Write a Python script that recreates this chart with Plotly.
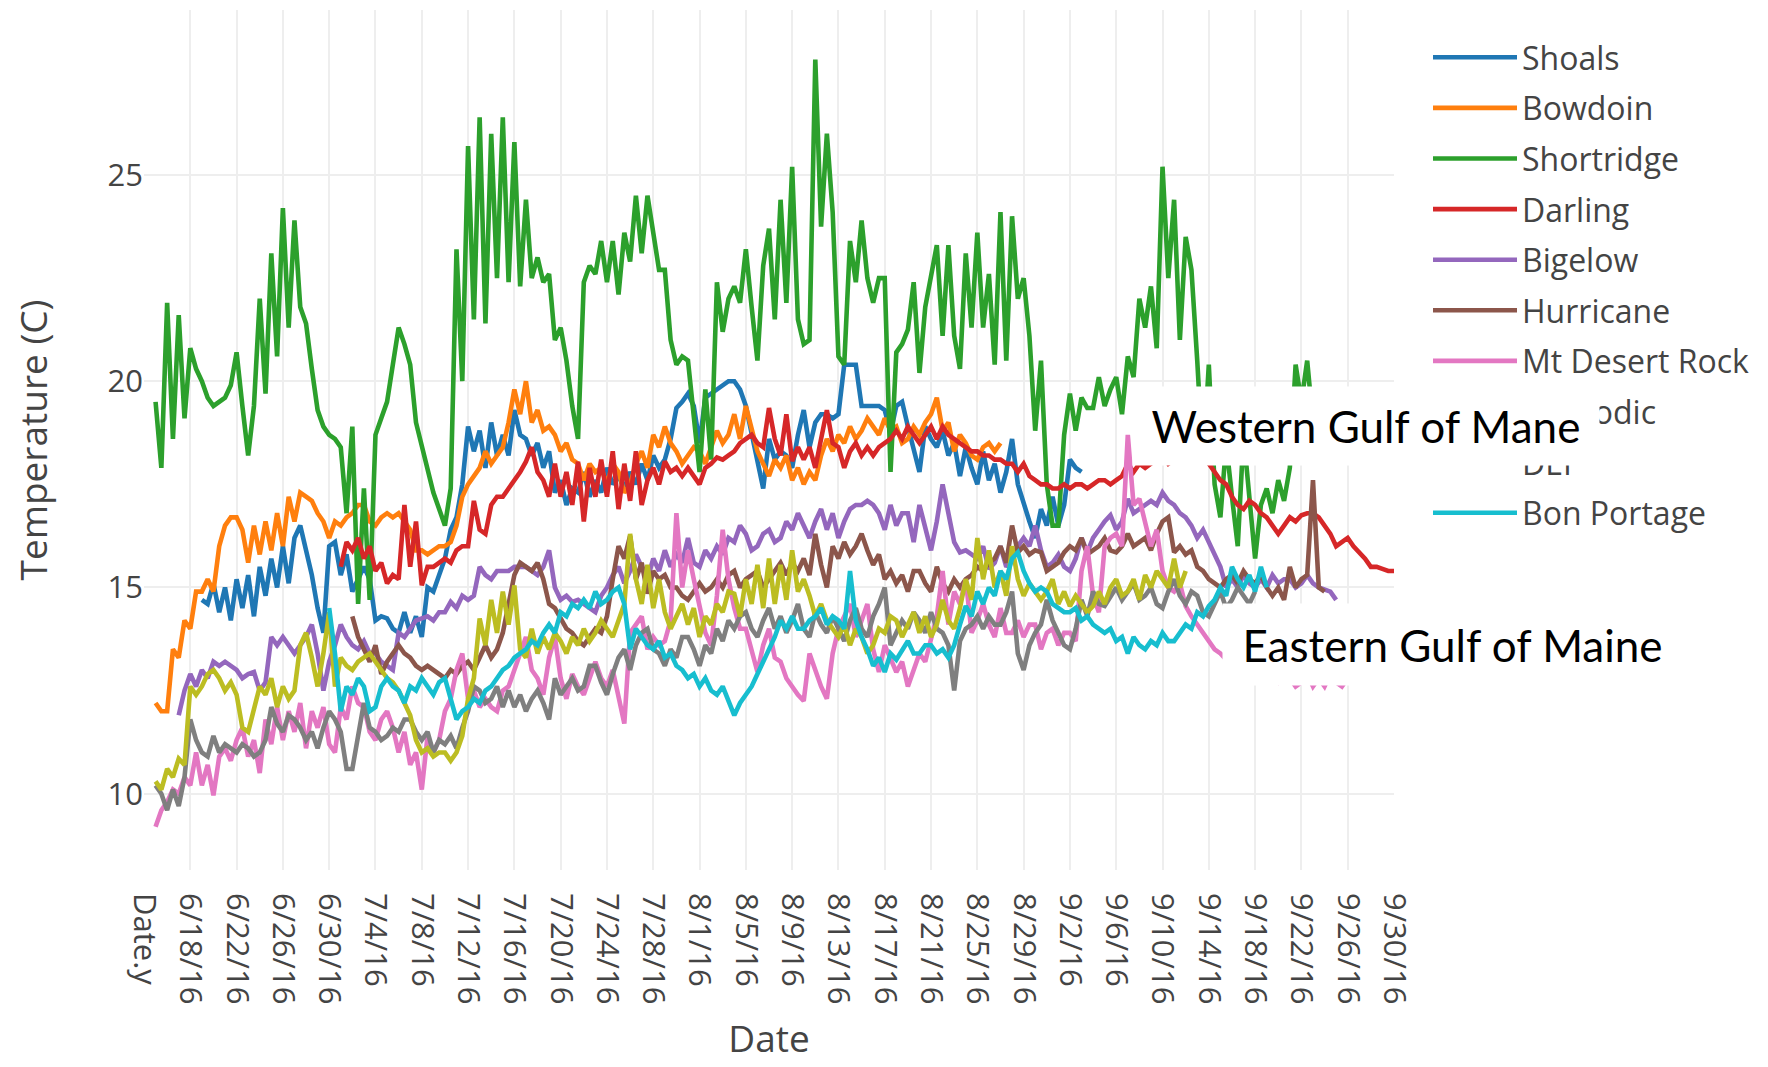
import datetime as dt
import plotly.graph_objects as go

# ---------------- data (readings every 12 hours) ----------------
TICK_LABELS = ["Date.y", "6/18/16", "6/22/16", "6/26/16", "6/30/16", "7/4/16", "7/8/16",
               "7/12/16", "7/16/16", "7/20/16", "7/24/16", "7/28/16", "8/1/16", "8/5/16",
               "8/9/16", "8/13/16", "8/17/16", "8/21/16", "8/25/16", "8/29/16", "9/2/16",
               "9/6/16", "9/10/16", "9/14/16", "9/18/16", "9/22/16", "9/26/16", "9/30/16"]
TICK_START = "2016-06-14"   # position of the "Date.y" category

SITES = ["Shoals", "Bowdoin", "Shortridge", "Darling", "Bigelow", "Hurricane",
         "Mt Desert Rock", "Schoodic", "DEI", "Bon Portage"]
COLORS = ["#1f77b4", "#ff7f0e", "#2ca02c", "#d62728", "#9467bd", "#8c564b",
          "#e377c2", "#7f7f7f", "#bcbd22", "#17becf"]
STARTS = ["2016-06-19", "2016-06-15", "2016-06-15", "2016-07-01", "2016-06-17",
          "2016-07-02", "2016-06-15", "2016-06-15", "2016-06-15", "2016-06-30"]

shoals = [14.7, 14.6, 15.1, 14.4, 15.0, 14.2, 15.2, 14.5, 15.3, 14.3,
          15.5, 14.8, 15.7, 15.0, 16.0, 15.1, 16.2, 16.5, 15.9, 15.3,
          14.5, 13.9, 16.0, 16.1, 15.3, 15.8, 14.9, 15.2, 15.5, 15.2,
          14.2, 14.3, 14.25, 14.0, 13.9, 14.4, 13.9, 14.3, 13.8, 15.0,
          14.9, 15.3, 15.7, 16.4, 16.7, 17.5, 18.9, 18.3, 18.8, 17.9,
          19.0, 18.2, 18.7, 18.2, 19.3, 18.7, 18.6, 18.2, 18.5, 17.9,
          18.3, 17.3, 17.6, 17.0, 17.4, 17.3, 17.8, 17.2, 17.6, 17.3,
          17.9, 17.5, 17.7, 17.4, 17.8, 17.5, 18.0, 17.6, 18.2, 17.9,
          18.1, 18.6, 19.35, 19.5, 19.7, 19.4, 18.5, 19.6, 19.7, 19.8,
          19.9, 20.0, 20.0, 19.8, 19.4, 18.7, 18.0, 17.4, 18.6, 18.1,
          18.3, 18.2, 17.9, 18.7, 19.3, 18.4, 19.0, 19.2, 19.2, 19.1,
          19.2, 20.4, 20.4, 20.4, 19.4, 19.4, 19.4, 19.4, 19.3, 18.75,
          19.4, 19.5, 18.9, 18.3, 17.8, 18.9, 18.6, 18.4, 18.8, 18.2,
          18.5, 17.7, 18.4, 17.9, 17.5, 18.3, 17.6, 18.0, 17.3, 17.8,
          18.6, 17.5, 17.0, 16.6, 16.2, 16.9, 16.5, 17.2, 16.5, 17.0,
          18.1, 17.9, 17.8]

bowdoin = [12.2, 12.0, 12.0, 13.5, 13.3, 14.2, 14.0, 14.9, 14.9, 15.2,
           14.9, 16.0, 16.5, 16.7, 16.7, 16.4, 15.6, 16.5, 15.8, 16.6,
           15.9, 16.8, 16.0, 17.2, 16.6, 17.3, 17.2, 17.1, 16.8, 16.6,
           16.2, 16.6, 16.5, 16.7, 16.8, 17.0, 17.0, 16.6, 16.5, 16.7,
           16.8, 16.7, 16.8, 16.6, 16.4, 15.9, 15.9, 15.8, 15.9, 16.0,
           16.0, 16.1, 16.5, 17.2, 17.5, 17.7, 17.9, 18.3, 18.0, 18.2,
           18.4, 19.0, 19.8, 19.2, 20.0, 19.0, 19.3, 18.8, 18.9, 18.7,
           18.3, 18.5, 18.1, 18.0, 17.6, 18.0, 17.8, 17.9, 17.5, 18.0,
           17.8, 17.3, 17.5, 18.0, 18.3, 17.9, 18.7, 18.4, 18.9, 18.5,
           18.3, 18.0, 18.2, 18.4, 18.3, 18.0, 18.4, 18.8, 18.5, 18.7,
           19.2, 18.6, 19.4, 18.9, 18.3, 18.0, 17.7, 18.1, 17.9, 18.2,
           17.6, 17.9, 17.5, 17.8, 17.6, 18.2, 18.6, 18.3, 18.7, 18.5,
           18.9, 18.6, 18.8, 19.1, 18.9, 18.7, 19.1, 18.8, 18.9, 18.5,
           18.6, 18.9, 18.7, 19.0, 19.2, 19.6, 18.8, 19.0, 18.3, 18.7,
           18.5, 18.2, 18.1, 18.4, 18.5, 18.3, 18.5]

shortridge = [19.5, 17.9, 21.9, 18.6, 21.6, 19.1, 20.8, 20.3, 20.0, 19.6,
              19.4, 19.5, 19.6, 19.9, 20.7, 19.4, 18.2, 19.4, 22.0, 19.7,
              23.1, 20.6, 24.2, 21.3, 23.9, 21.8, 21.4, 20.3, 19.3, 18.9,
              18.7, 18.6, 18.4, 16.8, 18.9, 14.6, 17.4, 14.7, 18.7, 19.1,
              19.5, 20.4, 21.3, 20.9, 20.4, 19.0, 18.4, 17.8, 17.3, 16.9,
              16.5, 17.4, 23.2, 20.0, 25.7, 21.5, 26.4, 21.4, 26.0, 22.5,
              26.4, 22.4, 25.8, 22.3, 24.4, 22.5, 23.0, 22.4, 22.6, 21.0,
              21.3, 20.5, 19.4, 18.6, 22.4, 22.8, 22.6, 23.4, 22.4, 23.4,
              22.1, 23.6, 22.9, 24.5, 23.1, 24.5, 23.5, 22.7, 22.7, 21.0,
              20.4, 20.6, 20.5, 19.2, 17.8, 19.8, 18.1, 22.4, 21.2, 22.0,
              22.3, 21.9, 23.2, 21.8, 20.5, 22.8, 23.7, 21.5, 24.4, 21.9,
              25.2, 21.5, 20.9, 21.0, 27.8, 23.75, 26.0, 24.1, 20.6, 20.4,
              23.4, 22.4, 23.9, 22.5, 21.9, 22.5, 22.5, 17.8, 20.7, 20.9,
              21.25, 22.4, 20.2, 21.8, 22.5, 23.3, 21.1, 23.3, 21.1, 20.3,
              23.1, 21.3, 23.6, 21.3, 22.6, 20.4, 24.1, 20.5, 24.0, 22.0,
              22.5, 21.1, 18.8, 20.5, 17.5, 16.5, 16.5, 18.7, 19.7, 18.8,
              19.6, 19.35, 19.35, 20.1, 19.4, 19.8, 20.1, 19.2, 20.6, 20.1,
              22.0, 21.3, 22.3, 20.8, 25.2, 22.5, 24.4, 21.0, 23.5, 22.7,
              20.5, 18.0, 20.4, 17.5, 16.7, 18.5, 17.2, 16.0, 18.7, 17.2,
              15.7, 17.0, 17.4, 16.8, 17.6, 17.1, 17.9, 20.4, 19.5, 20.5,
              19.0]

darling = [15.5, 16.1, 15.9, 16.2, 15.7, 16.0, 15.4, 15.6, 15.1, 15.3,
           15.2, 17.0, 15.5, 16.6, 15.05, 15.5, 15.5, 15.6, 15.7, 15.6,
           15.9, 16.0, 16.0, 17.1, 16.4, 16.3, 17.0, 17.2, 17.2, 17.4,
           17.6, 17.8, 18.05, 18.4, 17.8, 17.6, 17.2, 18.0, 17.2, 17.8,
           17.0, 18.05, 16.6, 17.9, 17.2, 18.1, 17.2, 18.3, 16.9, 18.0,
           17.1, 18.3, 17.0, 17.6, 17.9, 17.5, 18.06, 17.8, 17.9, 17.7,
           17.9, 17.7, 17.5, 17.9, 18.0, 18.15, 18.1, 18.2, 18.3, 18.5,
           18.6, 18.7, 18.5, 18.4, 19.35, 18.6, 18.2, 19.2, 18.06, 18.4,
           18.1, 18.4, 17.9, 18.6, 19.3, 18.5, 18.4, 17.9, 18.3, 18.5,
           18.2, 18.4, 18.2, 18.4, 18.5, 18.6, 18.8, 18.6, 18.9, 18.7,
           18.5, 18.7, 18.9, 18.6, 18.9, 18.7, 18.6, 18.5, 18.4, 18.3,
           18.3, 18.2, 18.2, 18.1, 18.1, 18.0, 18.0, 17.8, 18.0, 17.7,
           17.6, 17.5, 17.5, 17.4, 17.4, 17.5, 17.4, 17.5, 17.5, 17.4,
           17.5, 17.6, 17.6, 17.5, 17.6, 17.7, 18.0, 17.8, 18.0, 17.9,
           18.0, 18.1, 18.2, 18.0, 18.1, 18.3, 18.2, 18.1, 18.3, 18.1,
           18.0, 17.8, 17.6, 17.5, 17.2, 17.0, 16.9, 17.1, 17.0, 16.8,
           16.7, 16.5, 16.3, 16.5, 16.7, 16.6, 16.75, 16.8, 16.8, 16.7,
           16.5, 16.3, 16.0, 16.1, 16.2, 16.0, 15.85, 15.7, 15.5, 15.5,
           15.45, 15.4, 15.4]

bigelow = [11.9, 12.5, 12.9, 12.6, 13.0, 12.8, 13.2, 13.1, 13.2, 13.1,
           13.0, 12.8, 12.9, 12.95, 12.5, 12.7, 13.8, 13.6, 13.8, 13.6,
           13.4, 13.6, 13.8, 14.1, 13.4, 12.5, 13.2, 13.6, 14.1, 13.8,
           13.6, 13.5, 13.7, 13.4, 13.4, 13.2, 13.1, 13.0, 13.9, 13.8,
           14.0, 14.2, 14.25, 14.3, 14.2, 14.4, 14.4, 14.65, 14.5, 14.8,
           14.7, 14.8, 15.5, 15.3, 15.2, 15.4, 15.4, 15.4, 15.5, 15.5,
           15.5, 15.4, 15.3, 15.5, 15.9, 15.0, 14.7, 14.8, 14.65, 14.7,
           14.6, 14.5, 14.4, 14.8, 15.0, 15.3, 15.5, 15.1, 15.4, 15.8,
           15.5, 15.2, 15.7, 15.4, 15.9, 15.5, 15.8, 15.6, 16.2, 15.6,
           15.5, 15.9, 15.7, 16.0, 15.8, 16.2, 16.1, 16.5, 16.3, 15.9,
           16.0, 16.3, 16.4, 16.1, 16.2, 16.6, 16.4, 16.8, 16.5, 16.2,
           16.6, 16.9, 16.4, 16.8, 16.2, 16.6, 16.9, 17.0, 17.0, 17.1,
           17.0, 16.8, 16.4, 17.0, 16.5, 16.8, 16.8, 16.1, 17.0, 16.4,
           15.9, 16.6, 17.5, 16.8, 16.1, 15.85, 15.9, 15.8, 15.7, 16.0,
           15.45, 15.6, 16.0, 15.5, 15.7, 16.0, 16.2, 16.0, 16.5, 15.9,
           15.5, 15.6, 15.8, 15.5, 15.4, 15.7, 16.2, 15.85, 16.2, 16.4,
           16.6, 16.75, 16.4, 16.6, 17.15, 16.8, 16.9, 17.0, 17.1, 17.0,
           17.3, 17.1, 17.0, 16.8, 16.7, 16.5, 16.2, 16.4, 16.1, 15.8,
           15.5, 15.0, 15.2, 15.0, 15.3, 15.1, 15.0, 15.2, 15.0, 15.3,
           15.1, 15.2, 15.2, 15.0, 15.1, 15.3, 15.1, 15.0, 14.95, 14.9,
           14.7]

hurricane = [14.3, 13.8, 13.5, 13.2, 13.6, 12.9, 13.2, 13.4, 13.6, 13.4,
             13.3, 13.1, 13.0, 13.1, 13.0, 12.9, 12.8, 13.0, 12.9, 13.1,
             13.2, 13.0, 13.3, 13.6, 13.3, 13.5, 13.9, 14.6, 15.3, 15.6,
             15.5, 15.4, 15.6, 15.2, 14.6, 14.5, 14.25, 14.0, 13.9, 13.7,
             13.6, 13.8, 14.0, 13.9, 14.3, 15.2, 16.0, 15.7, 16.25, 15.2,
             15.6, 14.85, 15.4, 15.2, 15.3, 15.0, 15.0, 14.8, 14.7, 14.9,
             15.1, 14.9, 15.0, 15.2, 15.0, 15.3, 15.4, 15.0, 15.2, 15.3,
             15.4, 15.0, 15.2, 15.4, 15.6, 15.3, 15.6, 15.4, 15.7, 15.3,
             16.3, 15.55, 15.0, 16.0, 15.7, 16.1, 15.8, 16.0, 16.3, 15.9,
             15.55, 15.8, 15.2, 15.4, 15.1, 15.3, 14.9, 15.4, 15.4, 15.1,
             14.9, 15.5, 15.1, 14.9, 15.2, 15.0, 15.2, 15.3, 15.5, 15.4,
             15.6, 15.7, 16.0, 15.6, 16.5, 15.85, 16.0, 15.8, 15.9, 15.85,
             15.4, 15.5, 15.6, 15.85, 16.0, 15.9, 16.2, 15.8, 15.9, 16.0,
             16.2, 15.9, 15.85, 16.0, 16.3, 16.0, 16.1, 16.2, 15.9, 16.3,
             16.6, 16.7, 15.85, 16.0, 15.8, 15.9, 15.5, 15.4, 15.2, 15.1,
             15.0, 15.2, 15.3, 15.1, 15.4, 15.2, 15.1, 15.3, 15.0, 14.8,
             15.0, 14.7, 15.5, 15.0, 15.2, 15.3, 17.6, 15.0, 14.9]

mt_desert_rock = [9.2, 9.6, 9.8, 10.1, 10.0, 10.4, 10.2, 11.0, 10.2, 10.7,
                  9.96, 10.9, 11.1, 10.8, 11.3, 11.6, 10.9, 11.3, 10.5, 11.8,
                  11.2, 12.1, 11.3, 12.0, 11.5, 12.2, 11.1, 12.0, 11.6, 12.1,
                  11.2, 11.0, 12.1, 11.8, 12.6, 12.2, 12.1, 11.5, 11.3, 11.8,
                  12.0, 11.6, 11.0, 11.5, 10.7, 11.0, 10.1, 11.4, 11.0, 11.3,
                  12.0, 12.3, 13.0, 13.4, 12.3, 12.5, 12.1, 12.3, 12.1, 12.0,
                  12.5, 12.6, 13.0, 13.4, 13.8, 13.0, 12.8, 12.4, 13.3, 13.8,
                  12.8, 12.3, 12.9, 12.6, 12.4, 12.8, 13.2, 12.8, 12.6, 13.0,
                  12.4, 11.7, 13.9, 14.1, 14.3, 13.5, 13.8, 13.6, 13.7, 14.2,
                  16.8, 15.0, 15.9, 15.2, 14.5, 13.9, 13.6, 14.8, 16.4, 15.2,
                  14.5, 14.0, 14.0, 13.5, 12.95, 13.6, 14.0, 13.3, 13.2, 12.8,
                  12.6, 12.4, 12.25, 13.4, 13.0, 12.6, 12.3, 13.4, 14.0, 14.3,
                  14.6, 13.8, 14.2, 14.6, 13.5, 12.95, 13.6, 13.3, 12.95, 13.2,
                  12.6, 13.0, 13.4, 13.2, 13.8, 14.3, 15.4, 14.1, 14.9, 14.6,
                  15.2, 13.9, 14.2, 14.6, 14.1, 13.8, 14.5, 13.9, 13.9, 14.2,
                  13.8, 14.1, 14.1, 13.5, 13.9, 14.0, 13.6, 13.9, 13.9, 13.7,
                  15.4, 16.0, 14.8, 14.4, 16.0, 16.2, 16.3, 16.0, 18.7, 17.0,
                  17.15, 16.6, 16.0, 16.4, 15.4, 15.0, 14.9, 15.1, 14.55, 14.3,
                  14.1, 13.9, 13.7, 13.5, 13.4, 13.25, 13.1, 13.0, 12.9, 13.1,
                  12.8, 12.9, 13.0, 12.8, 12.7, 12.9, 12.8, 12.6, 12.7, 12.9,
                  12.6, 12.8, 12.6, 12.9, 12.7, 12.6, 12.8]

schoodic = [10.2, 10.0, 9.6, 10.1, 9.7, 10.4, 11.8, 11.3, 11.0, 10.9,
            11.4, 11.0, 11.2, 11.1, 11.0, 11.2, 11.1, 10.9, 11.0, 11.3,
            12.1, 11.7, 11.5, 11.9, 11.8, 11.6, 11.3, 11.5, 11.1, 11.6,
            12.0, 11.8, 11.5, 10.6, 10.6, 11.4, 12.2, 11.6, 11.5, 11.3,
            11.4, 11.6, 11.5, 11.8, 11.8, 11.5, 11.3, 11.5, 11.0, 11.3,
            11.2, 11.4, 11.1, 11.6, 12.0, 12.6, 12.5, 12.2, 12.3, 12.6,
            12.1, 12.5, 12.1, 12.4, 12.0, 12.3, 12.5, 12.2, 11.8, 12.8,
            12.4, 12.6, 12.8, 12.5, 12.6, 13.1, 13.1, 12.7, 12.4, 12.9,
            13.3, 13.5, 13.0, 13.6, 13.9, 14.0, 13.5, 13.4, 13.1, 13.5,
            13.3, 13.8, 13.8, 13.5, 13.1, 13.6, 13.4, 14.0, 13.7, 14.2,
            14.0, 14.3, 14.4, 14.0, 13.8, 14.2, 14.5, 14.0, 14.3, 13.9,
            14.2, 14.6, 14.0, 13.8, 14.4, 14.1, 13.9, 14.3, 14.0, 13.7,
            14.2, 14.5, 14.0, 13.8, 14.3, 14.6, 15.0, 13.6, 13.9, 14.2,
            14.0, 14.4, 14.2, 13.9, 14.4, 14.0, 13.9, 13.6, 12.5, 13.7,
            14.0, 14.1, 14.3, 14.0, 14.3, 14.1, 14.1, 14.4, 14.9, 13.4,
            13.0, 13.6, 13.9, 14.1, 14.7, 14.2, 13.9, 13.6, 13.5, 14.0,
            14.7, 14.3, 14.9, 14.6, 14.55, 14.8, 15.0, 14.7, 14.9, 15.1,
            14.7, 14.8, 15.0, 14.6, 14.5, 14.9, 15.2, 14.8, 14.6, 14.9,
            14.8, 14.4, 14.3, 14.6, 14.9, 14.5, 14.7, 15.0, 14.8, 14.6,
            14.9]

dei = [10.3, 10.1, 10.6, 10.4, 10.85, 10.7, 12.6, 12.4, 12.6, 12.9,
       13.0, 12.8, 12.5, 12.7, 12.4, 11.6, 11.5, 12.0, 12.6, 12.4,
       12.8, 12.1, 12.6, 12.3, 12.5, 13.6, 13.9, 13.3, 12.6, 13.4,
       14.4, 12.6, 13.3, 13.1, 13.0, 13.2, 13.3, 13.4, 13.2, 13.0,
       12.8, 12.7, 12.5, 12.2, 11.9, 11.3, 11.0, 11.1, 10.9, 11.0,
       11.0, 10.8, 11.0, 11.4, 12.3, 12.8, 14.25, 13.6, 14.7, 13.9,
       14.9, 14.1, 15.05, 13.5, 13.3, 14.0, 13.4, 13.8, 13.5, 13.9,
       13.7, 13.4, 13.8, 13.6, 14.0, 13.7, 13.9, 14.2, 14.0, 13.8,
       14.2, 14.6, 16.3, 15.2, 14.6, 15.55, 14.5, 15.2, 14.4, 14.0,
       14.3, 14.6, 14.1, 14.5, 13.8, 14.3, 14.1, 14.6, 14.4, 14.9,
       14.85, 14.3, 15.2, 14.6, 15.55, 14.5, 15.7, 14.6, 15.55, 14.7,
       15.9, 14.9, 15.2, 14.8, 14.3, 14.6, 14.2, 14.0, 13.8, 14.1,
       13.6, 14.0, 13.8, 13.4, 13.6, 14.0, 13.9, 14.3, 14.2, 13.8,
       14.1, 14.4, 13.9, 14.3, 13.8, 14.1, 14.7, 14.2, 14.0, 14.5,
       15.2, 14.7, 16.2, 15.2, 15.9, 15.0, 15.4, 14.8, 16.0, 15.2,
       14.8, 15.1, 14.9, 14.7, 14.9, 15.2, 14.6, 14.9, 14.55, 14.8,
       14.6, 14.4, 14.55, 14.9, 14.6, 15.0, 15.2, 14.8, 14.9, 15.2,
       14.7, 15.3, 15.0, 15.4, 15.2, 15.0, 15.7, 15.0, 15.4]

bon_portage = [14.5, 13.4, 12.0, 12.6, 12.4, 12.8, 12.6, 12.0, 12.1, 12.6,
               12.8, 12.6, 12.5, 12.2, 12.6, 12.5, 12.8, 12.6, 12.4, 12.7,
               12.8, 12.3, 11.8, 12.0, 12.1, 12.3, 12.2, 12.5, 12.6, 12.8,
               13.0, 13.1, 13.3, 13.4, 13.5, 13.7, 13.6, 13.9, 14.1, 13.9,
               14.4, 14.3, 14.6, 14.5, 14.7, 14.5, 14.9, 14.6, 14.7, 14.9,
               15.0, 14.6, 13.5, 14.0, 13.8, 13.6, 13.5, 13.7, 13.3, 13.4,
               13.1, 13.0, 12.8, 12.9, 12.6, 12.8, 12.5, 12.4, 12.6, 12.25,
               11.9, 12.2, 12.4, 12.6, 12.9, 13.2, 13.5, 13.8, 14.2, 14.0,
               14.3, 14.0, 14.0, 14.2, 14.3, 14.5, 14.1, 14.3, 14.2, 14.0,
               15.4, 14.2, 13.8, 13.5, 13.1, 13.3, 12.95, 13.4, 13.25, 13.5,
               13.7, 13.4, 13.4, 13.6, 13.6, 13.4, 13.5, 13.3, 13.6, 14.1,
               14.55, 14.3, 14.9, 14.6, 15.0, 14.8, 15.4, 15.2, 15.7, 15.85,
               15.4, 15.1, 14.9, 15.0, 14.9, 14.6, 14.5, 14.4, 14.4, 14.5,
               14.2, 14.3, 14.1, 14.0, 13.9, 14.0, 13.7, 13.8, 13.4, 13.8,
               13.6, 13.5, 13.7, 13.6, 13.9, 13.7, 13.7, 13.9, 14.1, 14.0,
               14.4, 14.3, 14.55, 14.7, 15.0, 14.8, 15.5, 15.2, 15.0, 15.3,
               14.9, 15.5, 15.0]

SERIES = [shoals, bowdoin, shortridge, darling, bigelow, hurricane,
          mt_desert_rock, schoodic, dei, bon_portage]

# ---------------- figure ----------------
W, H = 1768, 1067
L, R, T, B = 144, 374, 10, 197
PW, PH = W - L - R, H - T - B


def px_x(px):
    return (px - L) / PW


def px_y(py):
    return (H - B - py) / PH


fig = go.Figure()
step = dt.timedelta(hours=12)
for name, color, start, vals in zip(SITES, COLORS, STARTS, SERIES):
    t0 = dt.datetime.fromisoformat(start)
    xs = [t0 + k * step for k in range(len(vals))]
    fig.add_trace(go.Scatter(x=xs, y=vals, mode="lines", name=name,
                             legendgroup=name,
                             line=dict(color=color, width=4.6)))

tick0 = dt.datetime.fromisoformat(TICK_START)
tickvals = [tick0 + dt.timedelta(days=4 * k) for k in range(len(TICK_LABELS))]

fig.update_layout(
    width=W, height=H, autosize=False,
    margin=dict(l=L, r=R, t=T, b=B, pad=0),
    paper_bgcolor="white", plot_bgcolor="white",
    font=dict(family="Open Sans, DejaVu Sans, sans-serif", color="#444", size=31),
    showlegend=True,
    legend=dict(x=px_x(1428), y=px_y(30), xanchor="left", yanchor="top",
                font=dict(size=32, color="#444"), tracegroupgap=6,
                itemwidth=84, bgcolor="rgba(255,255,255,0)"),
    xaxis=dict(type="date", range=[tick0, tickvals[-1]],
               tickmode="array", tickvals=tickvals, ticktext=TICK_LABELS,
               tickangle=90, tickfont=dict(size=31, color="#444"),
               showgrid=True, gridcolor="#eeeeee", gridwidth=2,
               zeroline=False, showline=False, ticks="",
               ticklabelstandoff=22,
               title=dict(text="Date", font=dict(size=37, color="#444"), standoff=22)),
    yaxis=dict(range=[8.15, 29.0], tickmode="array", tickvals=[10, 15, 20, 25],
               tickfont=dict(size=31, color="#444"),
               showgrid=True, gridcolor="#eeeeee", gridwidth=2,
               zeroline=False, showline=False, ticks="",
               title=dict(text="Temperature (C)", font=dict(size=37, color="#444"), standoff=48)),
    annotations=[
        dict(text="Western Gulf of Mane", xref="paper", yref="paper",
             x=px_x(1366), y=px_y(426), xanchor="center", yanchor="middle",
             showarrow=False, bgcolor="white", borderpad=0, width=466, height=78,
             font=dict(family="Lato, Carlito, sans-serif", size=44, color="black")),
        dict(text="Eastern Gulf of Maine", xref="paper", yref="paper",
             x=px_x(1452), y=px_y(644), xanchor="center", yanchor="middle",
             showarrow=False, bgcolor="white", borderpad=0, width=459, height=81,
             font=dict(family="Lato, Carlito, sans-serif", size=44, color="black")),
    ],
)

fig.write_html("out.html")
